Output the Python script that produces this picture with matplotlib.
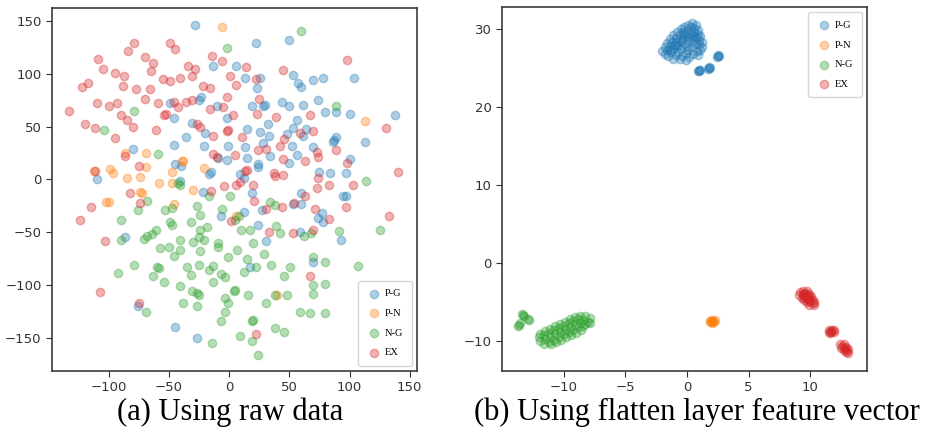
import matplotlib
matplotlib.use("Agg")
import matplotlib.pyplot as plt

# ---------------- class names and colours ----------------
classes = ["P-G", "P-N", "N-G", "EX"]
colors = ["#1f77b4", "#ff7f0e", "#2ca02c", "#d62728"]

# ---------------- (a) t-SNE of raw data ----------------
raw_pg_x = [-28, 22, 50, 6, -13, 13, 23, 26, 53, 57, 60, 70, 78, 104, 74, 80, 89, 100, 138, 113,
            86, 89, 87, 100, 97, 84, 95, 97, 93, 75, 70, 77, 78, 74, 60, 53, 60, 59, 70, 48,
            52, 50, 56, 61, 64, 56, 53, 44, 50, 61, 32, 28, 30, 19, 26, 33, 34, 28, 24, 24,
            15, 13, 15, 9, 12, 12, 19, 24, 27, 31, 17, -7, -9, -1, -2, -10, -2, -15, -17, -22,
            -21, -20, -23, -25, -36, -31, -46, -46, -49, -45, -40, -41, -80, -110, -86, -76, -45, -27]
raw_pg_y = [146, 129, 132, 107, 107, 96, 86, 96, 99, 91, 87, 94, 96, 96, 75, 64, 64, 62, 61, 35,
            35, 40, 37, 19, 6, 6, -16, -16, -57, 7, 31, -32, -40, -36, -13, -23, -23, -50, -78, 43,
            32, 16, 23, 41, 48, 56, 49, 73, 69, 70, 52, 69, 70, 69, 45, 41, 22, 34, 15, 12,
            48, 31, 20, 5, 1, -31, -13, -43, -29, -58, -83, -35, 20, 32, 18, 69, 58, 7, 5, -12,
            32, 44, 78, 75, 40, 53, 33, 58, 72, 15, 13, -1, 29, 0, -54, -120, -139, -150]

raw_pn_x = [-6, 113, -69, -86, -69, -74, -85, -99, -96, -112, -102, -100, -58, -47, -47, -39,
            -38, -30, -21, -74, -72, -46, 40, 6]
raw_pn_y = [144, 55, 25, 25, 12, 2, 1, 10, 6, 8, -21, -21, -3, -3, 7, 17,
            17, -10, 11, -12, -13, -23, -109, -35]

raw_ng_x = [60, -2, -79, -104, 89, 114, 125, 107, 91, 70, 70, 70, 80, 80, 80, 67, 59, 48, 46, 51,
            46, 38, 24, 19, 9, 20, 19, 31, 38, 16, 5, 4, -3, -1, -3, -7, -14, -27, -38, -31,
            -27, -25, -41, -35, -32, -25, -17, -13, -13, -7, -3, -1, -9, -9, -21, -25, -18, -24, -30, -24,
            -32, -24, -27, -17, -41, -41, -46, -50, -49, -47, -57, -60, -58, -63, -54, -53, -47, -41, -61, -64,
            -68, -71, -68, -76, -90, -90, -79, -92, -69, 1, -6, 8, 5, 10, 17, 20, 7, 15, 12, 22,
            29, 35, 39, 42, 34, 38, 68, 62, -59, -42]
raw_ng_y = [140, 124, 65, 47, 69, -1, -48, -82, -49, -73, -100, -108, -78, -99, -126, -126, -125, -109, -91, -83,
            -144, -140, -166, -153, -148, -133, -134, -117, -109, -109, -104, -105, -112, -117, -125, -134, -155, -120, -117, -105,
            -107, -109, -101, -83, -90, -81, -86, -82, -97, -89, -92, -73, -60, -64, -57, -54, -45, -48, -59, -68,
            -40, -34, -25, -16, -57, -67, -72, -64, -40, -43, -65, -83, -84, -91, -97, -29, -27, -5, -48, -52,
            -53, -56, -20, -29, -57, -38, -81, -88, -125, -16, -28, -35, -38, -48, -48, -60, -67, -75, -87, -83,
            -70, -81, -44, -51, -21, -24, -51, -53, 24, -3]

raw_ex_x = [-133, -122, -117, -109, -105, -110, -100, -95, -93, -87, -88, -84, -79, -77, -90, -85, -80, -95, -120, -111,
            -70, -63, -65, -66, -70, -61, -59, -55, -49, -45, -49, -41, -34, -31, -28, -31, -36, -42, -54, -52,
            -46, -14, -6, -22, -16, -16, -5, -2, 1, 6, 14, 22, 25, 23, 3, -2, -13, -27, -24, 11,
            39, 45, 67, 70, 59, 46, 42, 31, 24, 73, 74, 89, 98, 130, 140, 133, 103, 97, 98, 83,
            83, 70, 71, 73, 74, 63, 63, 54, 53, 67, 45, 45, 38, 37, 44, 31, 33, 13, 15, 9,
            6, 20, 21, 2, -4, 5, -13, -10, -15, -1, -75, -86, -111, -82, -74, -115, -124, -103, -107, -75,
            22]
raw_ex_y = [65, 87, 91, 114, 104, 72, 69, 101, 72, 98, 88, 121, 129, 85, 61, 56, 50, 39, 52, 49,
            116, 110, 102, 85, 76, 47, 72, 95, 129, 123, 93, 96, 107, 98, 104, 75, 73, 68, 61, 62,
            73, 117, 112, 88, 86, 67, 68, 78, 98, 89, 106, 95, 76, 62, 61, 46, 41, 52, 50, 40,
            59, 103, 61, 46, 44, 38, 32, 29, 28, 26, 21, 28, 113, 49, 7, -35, -5, -26, 16, -5,
            -37, -48, -28, -8, 1, 17, -16, -22, -51, -91, 19, 4, 3, 6, -26, -28, -50, 8, 9, -2,
            -5, -5, -20, -39, -6, 23, 24, 21, -11, 47, 13, 22, 8, -13, -22, -26, -38, -58, -106, -117,
            -146]

# ---------------- (b) t-SNE of flatten-layer features ----------------
flat_pg_x = [-2.0, -1.8, -1.6, -1.4, -1.1, -0.8, -0.5, -0.2, 0.1, 0.4, 0.7,
             -1.8, -1.6, -1.4, -1.2, -0.9, -0.6, -0.3, 0.0, 0.3, 0.6, 0.9,
             -1.5, -1.3, -1.1, -0.9, -0.6, -0.3, 0.0, 0.3, 0.6, 0.9, 1.1,
             -1.1, -0.9, -0.7, -0.5, -0.2, 0.1, 0.4, 0.7, 1.0, 1.2,
             -0.6, -0.4, -0.1, 0.1, 0.4, 0.7, 1.0, 1.2,
             -0.1, 0.2, 0.5, 0.8, 1.1, 0.9,
             -1.0, -0.4, 0.2, -0.7, 0.0, 0.5, -1.4, -0.2, 0.6, -0.9,
             2.5, 2.5, 2.6, 2.4, 1.8, 1.7, 1.9, 1.8, 1.0, 0.9, 1.1, 1.0]
flat_pg_y = [27.2, 27.7, 28.2, 28.7, 29.2, 29.6, 30.0, 30.3, 30.5, 30.7, 30.5,
             26.8, 27.3, 27.8, 28.3, 28.8, 29.2, 29.6, 29.9, 30.2, 30.1, 29.9,
             26.5, 27.0, 27.4, 27.9, 28.4, 28.8, 29.2, 29.5, 29.6, 29.4, 29.1,
             26.2, 26.7, 27.1, 27.6, 28.0, 28.4, 28.8, 28.9, 28.6, 28.3,
             26.1, 26.5, 26.9, 27.3, 27.7, 28.1, 28.0, 27.7,
             26.0, 26.4, 26.8, 27.2, 27.3, 26.7,
             27.9, 28.6, 29.0, 27.8, 27.7, 28.3, 27.3, 29.3, 29.1, 28.3,
             26.5, 26.6, 26.5, 26.4, 25.0, 24.9, 25.0, 25.1, 24.7, 24.6, 24.7, 24.6]

flat_pn_x = [1.85, 2.1, 2.2, 2.0, 1.95, 2.05, 2.15, 1.9, 2.25]
flat_pn_y = [-7.4, -7.35, -7.5, -7.6, -7.3, -7.45, -7.4, -7.55, -7.3]

flat_ng_x = [-11.9, -11.5, -11.1, -10.7, -10.3, -9.9, -9.5, -9.1, -8.7, -8.3, -7.9,
             -12.0, -11.6, -11.2, -10.8, -10.4, -10.0, -9.6, -9.2, -8.8, -8.4, -8.0,
             -11.9, -11.5, -11.1, -10.7, -10.3, -9.9, -9.5, -9.1, -8.7, -8.3, -7.9,
             -11.6, -11.2, -10.8, -10.4, -10.0, -9.6, -9.2, -8.8, -8.4,
             -11.0, -10.6, -10.2, -9.8, -9.4, -9.0, -8.6,
             -13.3, -13.2, -12.9, -12.8, -13.7, -13.6, -13.5, -13.4]
flat_ng_y = [-9.0, -8.7, -8.4, -8.1, -7.8, -7.5, -7.2, -6.9, -6.7, -6.8, -7.0,
             -9.5, -9.2, -8.9, -8.6, -8.3, -8.0, -7.7, -7.4, -7.2, -7.3, -7.5,
             -10.0, -9.7, -9.4, -9.1, -8.8, -8.5, -8.2, -7.9, -7.7, -7.8, -7.6,
             -10.3, -10.1, -9.8, -9.4, -9.1, -8.8, -8.5, -8.2, -8.1,
             -10.4, -10.1, -9.8, -9.5, -9.2, -8.9, -8.6,
             -6.6, -6.8, -7.1, -7.3, -8.0, -7.9, -7.6, -6.5]

flat_ex_x = [9.2, 9.4, 9.6, 9.8, 10.0, 10.2, 10.3,
             9.4, 9.6, 9.8, 10.0, 10.2, 10.3,
             9.1, 9.3, 9.5, 9.7, 9.9,
             9.7, 9.9, 10.1,
             9.5, 9.7, 9.9, 9.4, 9.8,
             11.5, 11.7, 11.9, 11.6, 11.8, 11.7, 11.5, 11.9,
             12.4, 12.6, 12.8, 13.0, 13.1, 12.5, 12.7, 12.9, 12.7, 12.9, 13.1, 12.8]
flat_ex_y = [-3.7, -3.9, -4.2, -4.5, -4.8, -5.1, -5.3,
             -3.5, -3.8, -4.1, -4.4, -4.7, -5.0,
             -4.1, -4.4, -4.7, -5.0, -5.3,
             -3.6, -3.9, -4.2,
             -4.3, -4.6, -4.9, -4.0, -4.3,
             -8.6, -8.8, -8.8, -8.9, -8.6, -8.7, -8.8, -8.6,
             -10.3, -10.6, -10.9, -11.2, -11.5, -10.8, -11.1, -11.4, -10.4, -10.7, -11.0, -11.0]

raw_sets = [(raw_pg_x, raw_pg_y), (raw_pn_x, raw_pn_y), (raw_ng_x, raw_ng_y), (raw_ex_x, raw_ex_y)]
flat_sets = [(flat_pg_x, flat_pg_y), (flat_pn_x, flat_pn_y), (flat_ng_x, flat_ng_y), (flat_ex_x, flat_ex_y)]

captions = ["(a) Using raw data", "(b) Using flatten layer feature vector"]

# ---------------- figure ----------------
fig = plt.figure(figsize=(9.27, 4.37), dpi=100)
ax_a = fig.add_axes([0.0561, 0.151, 0.3937, 0.8307])
ax_b = fig.add_axes([0.5415, 0.151, 0.3937, 0.833])

legend_font = {"family": "Liberation Serif", "size": 7.5}


def draw_panel(ax, sets, loc):
    for (xs, ys), name, c in zip(sets, classes, colors):
        ax.scatter(xs, ys, s=36, color=c, alpha=0.35, label=name)
    leg = ax.legend(loc=loc, prop=legend_font, labelspacing=1.0,
                    handletextpad=0.4, borderpad=0.8, handlelength=1.4)
    for spine in ax.spines.values():
        spine.set_color("#3c3c3c")
        spine.set_linewidth(1.2)
    ax.tick_params(labelsize=9.5, colors="#333333", length=4)
    return leg


draw_panel(ax_a, raw_sets, "lower right")
ax_a.set_xlim(-147, 156)
ax_a.set_ylim(-181, 162)
ax_a.set_xticks([-100, -50, 0, 50, 100, 150])
ax_a.set_yticks([-150, -100, -50, 0, 50, 100, 150])

draw_panel(ax_b, flat_sets, "upper right")
ax_b.set_xlim(-15, 14.6)
ax_b.set_ylim(-13.8, 32.8)
ax_b.set_xticks([-10, -5, 0, 5, 10])
ax_b.set_yticks([-10, 0, 10, 20, 30])

fig.text(0.248, 0.057, captions[0], ha="center", va="center",
         family="Liberation Serif", fontsize=22)
fig.text(0.752, 0.057, captions[1], ha="center", va="center",
         family="Liberation Serif", fontsize=22)

fig.savefig("out.png", dpi=100)
